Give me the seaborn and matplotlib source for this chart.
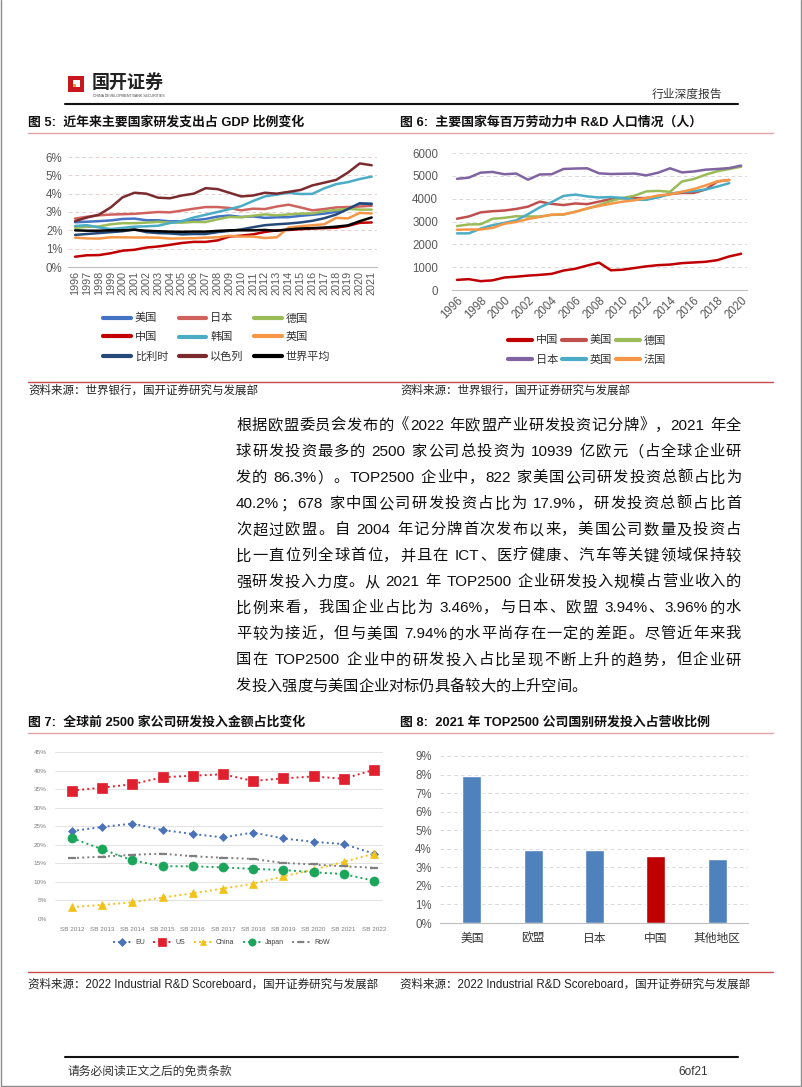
import re
import numpy as np
import seaborn as sns
import matplotlib.pyplot as plt
from matplotlib.lines import Line2D
from matplotlib.patches import Rectangle
from matplotlib.ticker import FuncFormatter

W, H = 802, 1087

# ---- 图5: 研发支出占GDP比例 (%)
gdp_years = list(range(1996, 2022))
gdp_names = ['美国', '日本', '德国', '中国', '韩国', '英国', '比利时', '以色列', '世界平均']
gdp_colors = ['#4472C4', '#D0625E', '#9BBB59', '#C00000', '#4BACC6', '#F79646', '#254A7A', '#7B2A2E', '#000000']
us_gdp = [2.44, 2.47, 2.50, 2.54, 2.62, 2.64, 2.55, 2.55, 2.49, 2.50, 2.55, 2.62, 2.75, 2.81, 2.73, 2.76,
          2.68, 2.71, 2.72, 2.79, 2.85, 2.91, 3.01, 3.17, 3.45, 3.46]
jp_gdp = [2.64, 2.74, 2.82, 2.86, 2.88, 2.90, 2.95, 3.00, 2.98, 3.08, 3.18, 3.27, 3.27, 3.22, 3.09, 3.18,
          3.16, 3.30, 3.40, 3.25, 3.09, 3.16, 3.25, 3.27, 3.30, 3.34]
de_gdp = [2.14, 2.19, 2.21, 2.33, 2.39, 2.39, 2.42, 2.46, 2.42, 2.42, 2.46, 2.45, 2.60, 2.73, 2.71, 2.80,
          2.87, 2.82, 2.87, 2.91, 2.92, 3.05, 3.11, 3.17, 3.13, 3.13]
cn_gdp = [0.56, 0.64, 0.65, 0.75, 0.89, 0.94, 1.06, 1.12, 1.21, 1.31, 1.37, 1.37, 1.45, 1.66, 1.71, 1.78,
          1.91, 2.00, 2.02, 2.06, 2.10, 2.12, 2.14, 2.24, 2.41, 2.43]
kr_gdp = [2.24, 2.28, 2.16, 2.07, 2.13, 2.20, 2.22, 2.25, 2.40, 2.50, 2.70, 2.85, 3.00, 3.15, 3.32, 3.60,
          3.85, 3.95, 4.05, 3.98, 3.99, 4.29, 4.52, 4.63, 4.80, 4.93]
uk_gdp = [1.60, 1.56, 1.55, 1.62, 1.62, 1.61, 1.61, 1.60, 1.55, 1.56, 1.57, 1.60, 1.62, 1.70, 1.66, 1.66,
          1.58, 1.62, 2.15, 2.22, 2.28, 2.33, 2.68, 2.65, 2.95, 2.92]
be_gdp = [1.75, 1.80, 1.85, 1.90, 1.95, 2.05, 1.90, 1.85, 1.83, 1.78, 1.80, 1.80, 1.90, 1.97, 2.05, 2.17,
          2.28, 2.33, 2.37, 2.43, 2.52, 2.66, 2.86, 3.16, 3.48, 3.43]
il_gdp = [2.50, 2.70, 2.85, 3.25, 3.80, 4.05, 4.00, 3.78, 3.75, 3.90, 4.00, 4.30, 4.25, 4.05, 3.85, 3.90,
          4.05, 4.00, 4.10, 4.20, 4.45, 4.60, 4.75, 5.15, 5.65, 5.55]
world_gdp = [2.00, 1.98, 1.98, 2.00, 2.00, 2.03, 1.98, 1.95, 1.93, 1.92, 1.93, 1.93, 1.97, 2.00, 2.00, 2.00,
             2.02, 1.98, 2.05, 2.10, 2.12, 2.15, 2.20, 2.27, 2.50, 2.70]
gdp_values = [us_gdp, jp_gdp, de_gdp, cn_gdp, kr_gdp, uk_gdp, be_gdp, il_gdp, world_gdp]

# ---- 图6: 每百万劳动力中R&D人口 (人)
rd_years = list(range(1996, 2021))
rd_names = ['中国', '美国', '德国', '日本', '英国', '法国']
rd_colors = ['#C00000', '#C0504D', '#9BBB59', '#8064A2', '#4BACC6', '#F79646']
cn_rd = [443, 475, 387, 422, 547, 582, 630, 663, 708, 852, 930, 1071, 1199, 863, 890, 963, 1036, 1089,
         1113, 1177, 1206, 1235, 1307, 1471, 1585]
us_rd = [3120, 3220, 3400, 3450, 3480, 3550, 3650, 3870, 3770, 3720, 3790, 3760, 3870, 3980, 4020, 4020,
         4030, 4080, 4200, 4250, 4250, 4400, 4750, 4820, None]
de_rd = [2800, 2870, 2880, 3120, 3160, 3230, 3220, 3220, 3290, 3300, 3430, 3570, 3720, 3900, 4030, 4130,
         4320, 4340, 4300, 4750, 4860, 5050, 5200, 5300, 5400]
jp_rd = [4870, 4920, 5140, 5170, 5070, 5100, 4830, 5060, 5070, 5300, 5320, 5330, 5110, 5080, 5090, 5100,
         5020, 5140, 5330, 5150, 5190, 5270, 5300, 5340, 5450]
uk_rd = [2480, 2480, 2690, 2840, 2940, 3050, 3320, 3620, 3850, 4120, 4180, 4100, 4050, 4070, 4030, 3950,
         3950, 4060, 4210, 4300, 4330, 4400, 4530, 4680, None]
fr_rd = [2640, 2650, 2650, 2720, 2900, 2980, 3110, 3200, 3300, 3320, 3420, 3570, 3680, 3780, 3870, 3930,
         4030, 4140, 4190, 4300, 4420, 4580, 4760, 4820, None]
rd_values = [cn_rd, us_rd, de_rd, jp_rd, uk_rd, fr_rd]

# ---- 图7: 全球前2500家公司研发投入金额占比 (%)
sb_labels = ['SB 2012', 'SB 2013', 'SB 2014', 'SB 2015', 'SB 2016', 'SB 2017', 'SB 2018', 'SB 2019',
             'SB 2020', 'SB 2021', 'SB 2022']
sb_names = ['EU', 'US', 'China', 'Japan', 'RoW']
sb_colors = ['#4A72B8', '#E0202E', '#F2C21B', '#1BA55A', '#7F7F7F']
sb_markers = ['D', 's', '^', 'o', '_']
eu_sb = [23.7, 24.8, 25.7, 24.0, 22.9, 22.0, 23.3, 21.7, 20.8, 20.2, 17.6]
us_sb = [34.6, 35.4, 36.3, 38.2, 38.6, 39.0, 37.2, 37.9, 38.4, 37.8, 40.2]
cn_sb = [3.2, 3.8, 4.5, 5.8, 6.9, 8.2, 9.5, 11.5, 13.3, 15.4, 17.6]
jp_sb = [21.8, 18.8, 15.8, 14.2, 14.2, 13.9, 13.5, 13.2, 12.6, 12.1, 10.3]
row_sb = [16.4, 16.8, 17.3, 17.6, 16.9, 16.5, 16.2, 15.1, 14.7, 14.2, 13.8]
sb_values = [eu_sb, us_sb, cn_sb, jp_sb, row_sb]

# ---- 图8: 2021年TOP2500公司国别研发投入占营收比例 (%)
bar_labels = ['美国', '欧盟', '日本', '中国', '其他地区']
bar_values = [7.94, 3.96, 3.94, 3.60, 3.45]
bar_colors = ['#4F81BD', '#4F81BD', '#4F81BD', '#C00000', '#4F81BD']

body_lines = [
    '根据欧盟委员会发布的《2022 年欧盟产业研发投资记分牌》，2021 年全',
    '球研发投资最多的 2500 家公司总投资为 10939 亿欧元（占全球企业研',
    '发的 86.3%）。TOP2500 企业中，822 家美国公司研发投资总额占比为',
    '40.2%；678 家中国公司研发投资占比为 17.9%，研发投资总额占比首',
    '次超过欧盟。自 2004 年记分牌首次发布以来，美国公司数量及投资占',
    '比一直位列全球首位，并且在 ICT、医疗健康、汽车等关键领域保持较',
    '强研发投入力度。从 2021 年 TOP2500 企业研发投入规模占营业收入的',
    '比例来看，我国企业占比为 3.46%，与日本、欧盟 3.94%、3.96%的水',
    '平较为接近，但与美国 7.94%的水平尚存在一定的差距。尽管近年来我',
    '国在 TOP2500 企业中的研发投入占比呈现不断上升的趋势，但企业研',
    '发投入强度与美国企业对标仍具备较大的上升空间。',
]

sns.set_theme(style='white')
plt.rcParams['font.family'] = ['Liberation Sans', 'Noto Sans CJK SC', 'DejaVu Sans']
plt.rcParams['axes.unicode_minus'] = False

fig = plt.figure(figsize=(W / 100, H / 100), dpi=100)
renderer = fig.canvas.get_renderer()


def box(x0, y0, x1, y1):
    # axes placed by pixel corners (top-left origin)
    return fig.add_axes([x0 / W, 1 - y1 / H, (x1 - x0) / W, (y1 - y0) / H])


def ftext(x, y, s, **kw):
    kw.setdefault('va', 'center')
    return fig.text(x / W, 1 - y / H, s, **kw)


def pline(xs, ys, color, lw):
    fig.add_artist(Line2D([x / W for x in xs], [1 - y / H for y in ys], color=color, lw=lw,
                          transform=fig.transFigure))


def hline(x0, x1, y, color, lw):
    pline([x0, x1], [y, y], color, lw)


def text_width(s, size):
    t = fig.text(0, 0, s, fontsize=size)
    w = t.get_window_extent(renderer).width
    t.remove()
    return w


def justified(line, x0, x1, y, size, last=False):
    tokens = re.findall(r'[A-Za-z0-9.%]+| |.', line)
    space = text_width('a a', size) - text_width('aa', size)
    widths = [space if t == ' ' else text_width(t, size) for t in tokens]
    gap = 0 if last else (x1 - x0 - sum(widths)) / (len(tokens) - 1)
    x = x0
    for t, w in zip(tokens, widths):
        if t != ' ':
            ftext(x, y, t, fontsize=size, color='#111111')
        x += w + gap


def style_axes(ax, grid_color, grid_ls):
    for s in ['top', 'right', 'left']:
        ax.spines[s].set_visible(False)
    ax.spines['bottom'].set_color('#BFBFBF')
    ax.spines['bottom'].set_linewidth(0.8)
    ax.yaxis.grid(True, color=grid_color, ls=grid_ls, lw=0.7)
    ax.xaxis.grid(False)
    ax.set_axisbelow(True)
    ax.tick_params(length=0, colors='#595959')
    ax.set_xlabel('')
    ax.set_ylabel('')


# ---------------- page decorations
pline([1, 1, W - 1.5, W - 1.5], [0, H - 1.5, H - 1.5, 0], '#8C8C8C', 1)
fig.add_artist(Rectangle((68 / W, 1 - 92 / H), 16 / W, 16 / H, transform=fig.transFigure,
                         fc='#C8161D', ec='none'))
fig.add_artist(Rectangle((73 / W, 1 - 87 / H), 7 / W, 7 / H, transform=fig.transFigure,
                         fc='white', ec='none'))
fig.add_artist(Rectangle((73 / W, 1 - 87 / H), 3 / W, 3 / H, transform=fig.transFigure,
                         fc='#E8A33B', ec='none'))
ftext(92, 83, '国开证券', fontsize=13, fontweight='bold', color='#222222')
ftext(93, 96, 'CHINA DEVELOPMENT BANK SECURITIES', fontsize=2.6, color='#444444')
ftext(722, 95, '行业深度报告', fontsize=8.5, color='#333333', ha='right')
hline(65, 738, 104, '#111111', 1.5)

ftext(28, 122, '图 5:  近年来主要国家研发支出占 GDP 比例变化', fontsize=9.3, fontweight='bold', color='#111111')
ftext(400, 122, '图 6:  主要国家每百万劳动力中 R&D 人口情况（人）', fontsize=9.3, fontweight='bold', color='#111111')
hline(28, 773, 133, '#E3A2AA', 1.0)
hline(28, 773, 382, '#C8494F', 1.0)
ftext(28, 391, '资料来源：世界银行，国开证券研究与发展部', fontsize=8.3, color='#222222')
ftext(400, 391, '资料来源：世界银行，国开证券研究与发展部', fontsize=8.3, color='#222222')

for i, line in enumerate(body_lines):
    justified(line, 236, 741, 426 + 26.05 * i, 11, last=(i == len(body_lines) - 1))

ftext(28, 722, '图 7:  全球前 2500 家公司研发投入金额占比变化', fontsize=9.3, fontweight='bold', color='#111111')
ftext(400, 722, '图 8:  2021 年 TOP2500 公司国别研发投入占营收比例', fontsize=9.3, fontweight='bold', color='#111111')
hline(28, 773, 733, '#E3A2AA', 1.0)
hline(28, 773, 972, '#C8494F', 1.0)
ftext(28, 985, '资料来源：2022 Industrial R&D Scoreboard，国开证券研究与发展部', fontsize=8.3, color='#222222')
ftext(400, 985, '资料来源：2022 Industrial R&D Scoreboard，国开证券研究与发展部', fontsize=8.3, color='#222222')

hline(65, 738, 1057, '#111111', 1.5)
ftext(67, 1072, '请务必阅读正文之后的免责条款', fontsize=8.5, color='#333333')
ftext(708, 1072, '6of21', fontsize=8.5, color='#333333', ha='right')

# ---------------- 图5
ax1 = box(68, 157, 377, 267)
for name, vals, color in zip(gdp_names, gdp_values, gdp_colors):
    sns.lineplot(x=gdp_years, y=vals, ax=ax1, color=color, linewidth=1.8, legend=False)
style_axes(ax1, '#E6CFCF', (0, (4, 3)))
ax1.set_ylim(0, 6)
ax1.set_xlim(1995.4, 2021.45)
ax1.set_yticks(range(0, 7))
ax1.yaxis.set_major_formatter(FuncFormatter(lambda v, p: f'{v:.0f}%'))
ax1.set_xticks(gdp_years)
ax1.set_xticklabels([str(y) for y in gdp_years], rotation=90)
ax1.tick_params(axis='x', labelsize=7.8, pad=3)
ax1.tick_params(axis='y', labelsize=8.3, pad=4)
order = [0, 3, 6, 1, 4, 7, 2, 5, 8]
ax1.legend([ax1.lines[i] for i in order], [gdp_names[i] for i in order], ncol=3,
           loc='upper left', bbox_to_anchor=(103 / W, 1 - 313 / H), bbox_transform=fig.transFigure,
           frameon=False, fontsize=8, handlelength=2.5, handletextpad=0.35, columnspacing=0.95,
           labelspacing=0.8, borderpad=0, borderaxespad=0, labelcolor='#333333')
for h in ax1.get_legend().legend_handles:
    h.set_linewidth(3)

# ---------------- 图6
ax2 = box(452, 153, 747, 290)
for name, vals, color in zip(rd_names, rd_values, rd_colors):
    sns.lineplot(x=rd_years, y=np.array(vals, dtype=float), ax=ax2, color=color, linewidth=1.8,
                 legend=False)
style_axes(ax2, '#D9D9D9', (0, (4, 3)))
ax2.set_ylim(0, 6000)
ax2.set_xlim(1995.58, 2020.5)
ax2.set_yticks(range(0, 7000, 1000))
ax2.set_xticks(rd_years[::2])
ax2.set_xticklabels([str(y) for y in rd_years[::2]], rotation=45, ha='right', rotation_mode='anchor')
ax2.tick_params(axis='x', labelsize=8.3, pad=3)
ax2.tick_params(axis='y', labelsize=8.3, pad=10)
order = [0, 3, 1, 4, 2, 5]
ax2.legend([ax2.lines[i] for i in order], [rd_names[i] for i in order], ncol=3,
           loc='upper left', bbox_to_anchor=(508 / W, 1 - 335 / H), bbox_transform=fig.transFigure,
           frameon=False, fontsize=8, handlelength=2.2, handletextpad=0.3, columnspacing=0.35,
           labelspacing=0.85, borderpad=0, borderaxespad=0, labelcolor='#333333')
for h in ax2.get_legend().legend_handles:
    h.set_linewidth(3)

# ---------------- 图7
ax3 = box(55, 752, 383, 919)
sb_x = np.arange(len(sb_labels))
for name, vals, color, mk in zip(sb_names, sb_values, sb_colors, sb_markers):
    ms = {'D': 4.5, 's': 6.5, '^': 6, 'o': 6.5, '_': 6}[mk]
    sns.lineplot(x=sb_x, y=vals, ax=ax3, color=color, linewidth=1.4, linestyle=':', marker=mk,
                 markersize=ms, markeredgecolor=color, markeredgewidth=1.6 if mk == '_' else 0.5,
                 legend=False)
style_axes(ax3, '#E3E3E3', '-')
ax3.spines['bottom'].set_visible(False)
ax3.set_ylim(0, 45)
ax3.set_xlim(-0.56, 10.3)
ax3.set_yticks(range(0, 50, 5))
ax3.yaxis.set_major_formatter(FuncFormatter(lambda v, p: f'{v:.0f}%'))
ax3.set_xticks(sb_x)
ax3.set_xticklabels(sb_labels)
ax3.tick_params(axis='both', labelsize=4.6, colors='#7F7F7F')
ax3.tick_params(axis='x', pad=6)
ax3.tick_params(axis='y', pad=6)
leg3 = ax3.legend(ax3.lines, sb_names, ncol=5, loc='center left',
                  bbox_to_anchor=(113 / W, 1 - 943 / H), bbox_transform=fig.transFigure,
                  frameon=False, fontsize=5, handlelength=2.6, handletextpad=0.6, columnspacing=1.2,
                  borderpad=0, borderaxespad=0, labelcolor='#404040', numpoints=1, markerscale=0.8)

# ---------------- 图8
ax4 = box(440, 756, 748, 923)
sns.barplot(x=bar_labels, y=bar_values, hue=bar_labels, palette=dict(zip(bar_labels, bar_colors)),
            width=0.31, legend=False, ax=ax4, saturation=1)
style_axes(ax4, '#D9D9D9', (0, (4, 3)))
ax4.set_ylim(0, 9)
ax4.set_xlim(-0.52, 4.5)
ax4.set_yticks(range(0, 10))
ax4.yaxis.set_major_formatter(FuncFormatter(lambda v, p: f'{v:.0f}%'))
ax4.tick_params(axis='y', labelsize=8.3, pad=6)
ax4.tick_params(axis='x', labelsize=8.5, pad=7, colors='#333333')

fig.savefig('out.png', dpi=100)
